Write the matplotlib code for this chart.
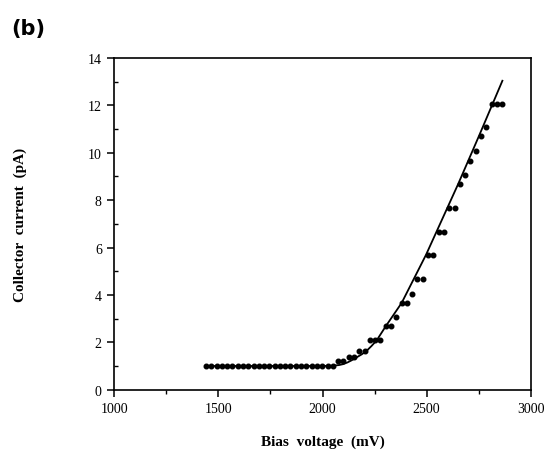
import matplotlib
matplotlib.use("Agg")
import matplotlib.pyplot as plt
from matplotlib.ticker import MultipleLocator

# Measured data points (bias voltage mV, collector current pA)
bias_mv = [1440, 1465, 1491, 1516, 1542, 1567, 1592, 1618, 1643, 1669,
           1694, 1719, 1745, 1770, 1796, 1821, 1846, 1872, 1897, 1923,
           1948, 1973, 1999, 2024, 2050, 2075, 2100, 2126, 2151, 2177,
           2202, 2227, 2253, 2278, 2304, 2329, 2354, 2380, 2405, 2431,
           2456, 2481, 2507, 2532, 2558, 2583, 2608, 2634, 2659, 2685,
           2710, 2735, 2761, 2786, 2812, 2837, 2862]
current_pa = [1.0, 1.0, 1.0, 1.0, 1.0, 1.0, 1.0, 1.0, 1.0, 1.0,
              1.0, 1.0, 1.0, 1.0, 1.0, 1.0, 1.0, 1.0, 1.0, 1.0,
              1.0, 1.0, 1.0, 1.0, 1.0, 1.2, 1.2, 1.37, 1.37, 1.65,
              1.65, 2.08, 2.08, 2.08, 2.68, 2.68, 3.08, 3.66, 3.66, 4.05,
              4.67, 4.67, 5.69, 5.69, 6.64, 6.64, 7.66, 7.66, 8.67, 9.06,
              9.67, 10.09, 10.70, 11.1, 12.05, 12.05, 12.05]

# Fitted curve
fit_mv = [1440, 2000, 2050, 2080, 2100, 2120, 2140, 2165, 2190, 2213, 2235,
          2260, 2304, 2380, 2497, 2651, 2751, 2864]
fit_pa = [1.0, 1.0, 1.01, 1.04, 1.08, 1.15, 1.24, 1.37, 1.5, 1.65, 1.84,
          2.08, 2.68, 3.66, 5.69, 8.67, 10.7, 13.04]

x_ticks = [1000, 1500, 2000, 2500, 3000]
y_ticks = [0, 2, 4, 6, 8, 10, 12, 14]

fig = plt.figure(figsize=(5.45, 4.6), dpi=100)
ax = fig.add_axes([0.2097, 0.1507, 0.7641, 0.721])

ax.plot(fit_mv, fit_pa, color='black', lw=1.3, zorder=2)
ax.plot(bias_mv, current_pa, 'o', color='black', ms=3.3, zorder=3)

ax.set_xlim(1000, 3000)
ax.set_ylim(0, 14)
ax.set_xticks(x_ticks)
ax.set_yticks(y_ticks)
ax.xaxis.set_minor_locator(MultipleLocator(250))
ax.yaxis.set_minor_locator(MultipleLocator(1))

serif = ['Liberation Serif', 'DejaVu Serif']
for lbl in ax.get_xticklabels() + ax.get_yticklabels():
    lbl.set_fontfamily(serif)
    lbl.set_fontsize(10)

ax.tick_params(axis='both', which='major', direction='out', length=5, width=1.1, pad=4)
ax.tick_params(axis='x', which='minor', direction='out', length=3, width=1.0)
ax.tick_params(axis='y', which='minor', direction='in', length=3, width=1.0)
for s in ax.spines.values():
    s.set_linewidth(1.2)

ax.set_xlabel('Bias  voltage  (mV)', fontfamily=serif, fontweight='bold',
              fontsize=11, labelpad=14)
ax.set_ylabel('Collector  current  (pA)', fontfamily=serif, fontweight='bold',
              fontsize=11, labelpad=44)

fig.text(0.02, 0.925, '(b)', fontsize=15, fontweight='bold',
         fontfamily=['DejaVu Sans'])

fig.savefig('out.png', dpi=100, facecolor='white')
